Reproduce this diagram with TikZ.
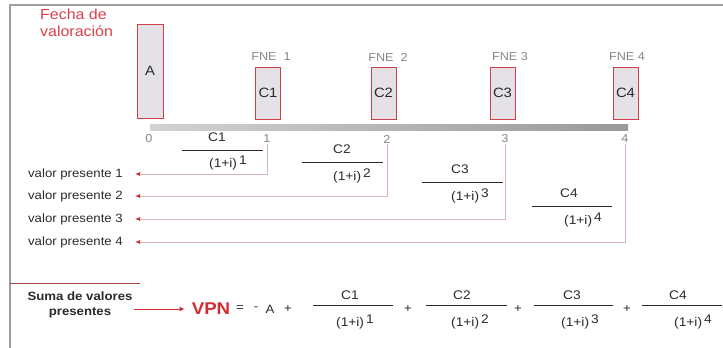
\documentclass[tikz,border=0pt]{standalone}
\usepackage{fontspec}
\setmainfont{Liberation Sans}[FakeStretch=1.1]
\usetikzlibrary{arrows.meta}
\definecolor{vred}{HTML}{D42A33}
\definecolor{fred}{HTML}{D8404A}
\definecolor{boxfill}{HTML}{E4E2E6}
\definecolor{boxline}{HTML}{D0404C}
\definecolor{framec}{HTML}{A0A0A0}
\definecolor{txt}{HTML}{2A2A2A}
\definecolor{lgray}{HTML}{858585}
\definecolor{connc}{HTML}{DDB4B8}
\definecolor{sepc}{HTML}{A8404A}
\newcommand{\mydenom}[1]{(1+i)\,\raisebox{3pt}{#1}}
\begin{document}
\begin{tikzpicture}[x=1pt,y=-1pt,
  every node/.style={inner sep=1pt, text=txt},
  cbox/.style={draw=boxline, fill=boxfill, line width=0.9pt, minimum width=25pt, minimum height=52pt, inner sep=0pt, font=\fontsize{13.5}{14}\selectfont},
  fne/.style={text=lgray, font=\fontsize{11.5}{12}\selectfont},
  tickl/.style={text=lgray, font=\fontsize{11.5}{12}\selectfont},
  vp/.style={font=\fontsize{12}{13}\selectfont, anchor=east},
  fr/.style={font=\fontsize{12.5}{13}\selectfont},
  eq/.style={font=\fontsize{12}{13}\selectfont},
  barline/.style={draw=txt, line width=0.8pt},
  conn/.style={draw=connc, line width=0.8pt},
  tipred/.style={-{Latex[length=5pt,width=4pt,color=vred]}, shorten >=11pt},
]
\useasboundingbox (0,0) rectangle (723,348);
% frame
\draw[framec, line width=1.5pt] (10,348) -- (10,5) -- (723,5);
% title
\node[anchor=north west, text=fred, align=left, font=\fontsize{14.5}{17}\selectfont, inner sep=0pt] (fecha) at (40,9) {Fecha de\\valoración};
% boxes
\node[cbox, minimum width=26pt, minimum height=94pt] (bA) at (150,71) {A};
\node[cbox] (b1) at (268,93) {C1};
\node[cbox] (b2) at (383.5,93) {C2};
\node[cbox] (b3) at (502.5,93) {C3};
\node[cbox] (b4) at (625.5,93) {C4};
% FNE labels
\node[fne] (f1) at (271,57) {FNE\ \ 1};
\node[fne] (f2) at (388,57) {FNE\ \ 2};
\node[fne] (f3) at (510,57) {FNE\ 3};
\node[fne] (f4) at (627,57) {FNE\ 4};
% timeline bar
\shade[left color=gray!35, right color=gray!80] (150,124) rectangle (628,130.5);
% tick labels
\node[tickl] (t0) at (149,139) {0};
\node[tickl] (t1) at (267,139) {1};
\node[tickl] (t2) at (387,139) {2};
\node[tickl] (t3) at (505,139) {3};
\node[tickl] (t4) at (625,139) {4};
% valor presente labels
\node[vp] (v1) at (124,174) {valor presente 1};
\node[vp] (v2) at (124,196) {valor presente 2};
\node[vp] (v3) at (124,219) {valor presente 3};
\node[vp] (v4) at (124,242) {valor presente 4};
% connectors
\draw[conn, tipred] (t1.south) |- (v1.east);
\draw[conn, tipred] (t2.south) |- (v2.east);
\draw[conn, tipred] (t3.south) |- (v3.east);
\draw[conn, tipred] (t4.south) |- (v4.east);
% fractions along timeline
\node[fr] (n1) at (217,137) {C1};
\draw[barline] (182,150) -- (263,150);
\node[fr] (d1) at (228,163) {\mydenom{1}};
\node[fr] (n2) at (342,149) {C2};
\draw[barline] (302,162) -- (383,162);
\node[fr] (d2) at (352,176) {\mydenom{2}};
\node[fr] (n3) at (460,169) {C3};
\draw[barline] (422,182) -- (503,182);
\node[fr] (d3) at (470,196) {\mydenom{3}};
\node[fr] (n4) at (569,193) {C4};
\draw[barline] (532,206) -- (612,206);
\node[fr] (d4) at (583,220) {\mydenom{4}};
% bottom
\draw[sepc, line width=1pt] (10,283) -- (140,283);
\node[font=\bfseries\fontsize{12}{15}\selectfont, align=center] (suma) at (80,305) {Suma de valores\\presentes};
\node[text=vred, font=\bfseries\fontsize{17}{18}\selectfont] (vpn) at (211,309) {VPN};
\draw[vred, line width=0.9pt, -{Latex[length=5pt,width=5pt]}, shorten >=6pt] (suma.east |- vpn) -- (vpn.west);
\node[eq] (eqs) at (240,309) {=};
\node[eq] (mn) at (256,309) {-};
\node[eq] (eA) at (270,309) {A};
\node[eq] (p0) at (288,309) {+};
\node[fr] (m1) at (350,295) {C1};
\draw[barline] (313,305) -- (393,305);
\node[fr] (e1) at (355,322) {\mydenom{1}};
\node[eq] (p1) at (408,309) {+};
\node[fr] (m2) at (462,295) {C2};
\draw[barline] (426,305) -- (507,305);
\node[fr] (e2) at (470,322) {\mydenom{2}};
\node[eq] (p2) at (518,309) {+};
\node[fr] (m3) at (572,295) {C3};
\draw[barline] (534,305) -- (613,305);
\node[fr] (e3) at (580,322) {\mydenom{3}};
\node[eq] (p3) at (627,309) {+};
\node[fr] (m4) at (678,295) {C4};
\draw[barline] (642,305) -- (722,305);
\node[fr] (e4) at (693,322) {\mydenom{4}};
\end{tikzpicture}
\end{document}
